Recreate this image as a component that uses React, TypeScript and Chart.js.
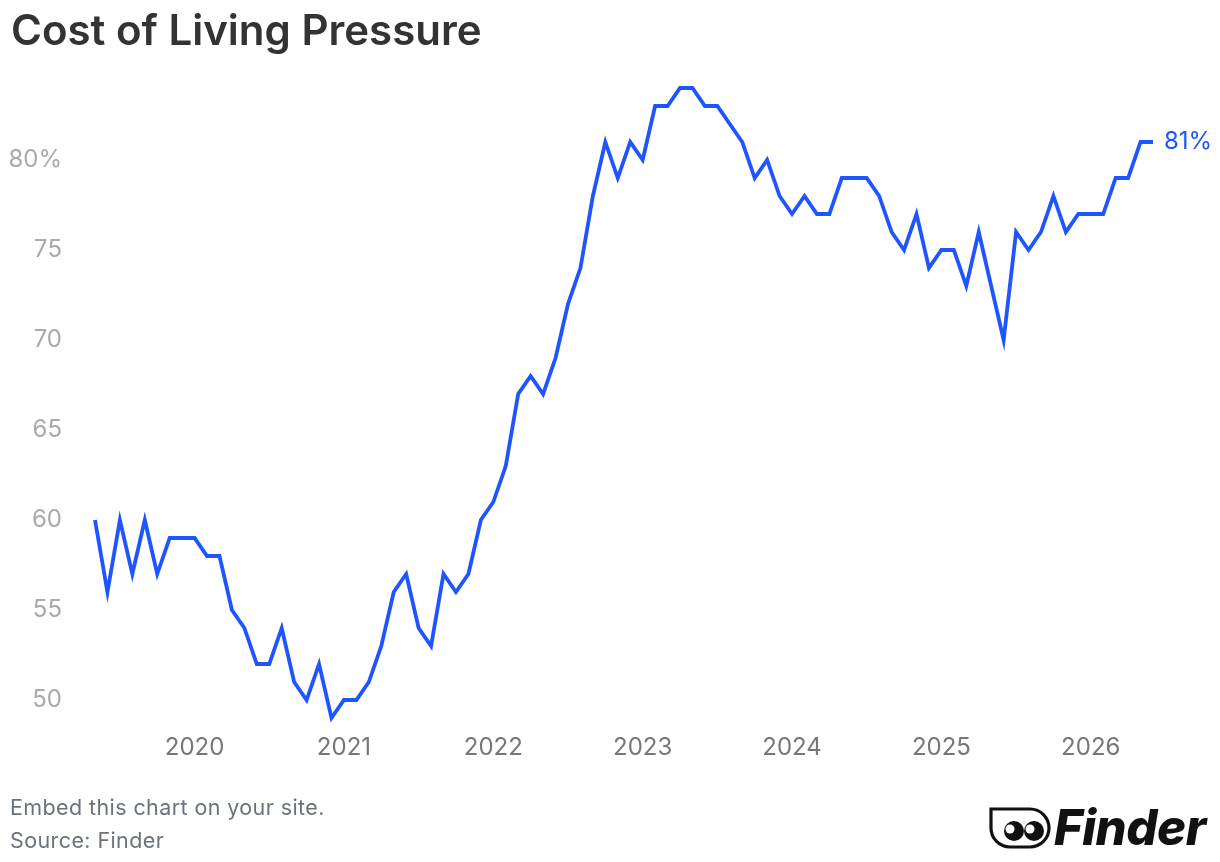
import { useEffect, useRef } from "react";
import { Chart, registerables } from "chart.js";

Chart.register(...registerables);

// monthly survey, May 2019 to June 2026
const firstYear = 2019;
const firstMonth = 5;

const pressure = [
  // 2019 (May-Dec)
  60, 56, 60, 57, 60, 57, 59, 59,
  // 2020
  59, 58, 58, 55, 54, 52, 52, 54, 51, 50, 52, 49,
  // 2021
  50, 50, 51, 53, 56, 57, 54, 53, 57, 56, 57, 60,
  // 2022
  61, 63, 67, 68, 67, 69, 72, 74, 78, 81, 79, 81,
  // 2023
  80, 83, 83, 84, 84, 83, 83, 82, 81, 79, 80, 78,
  // 2024
  77, 78, 77, 77, 79, 79, 79, 78, 76, 75, 77, 74,
  // 2025
  75, 75, 73, 76, 73, 70, 76, 75, 76, 78, 76, 77,
  // 2026 (Jan-Jun)
  77, 77, 79, 79, 81, 81,
];

const months: string[] = [];
for (let i = 0; i < pressure.length; i++) {
  const m = firstMonth - 1 + i;
  const y = firstYear + Math.floor(m / 12);
  months.push(`${y}-${String((m % 12) + 1).padStart(2, "0")}`);
}

const yTicks = [50, 55, 60, 65, 70, 75, 80];

const BLUE = "#1f55ff";
const FONT = "Inter, 'Noto Sans', sans-serif";

const endLabel = {
  id: "endLabel",
  afterDatasetsDraw(chart: any) {
    const meta = chart.getDatasetMeta(0);
    const pt = meta.data[meta.data.length - 1];
    if (!pt) return;
    const { ctx } = chart;
    ctx.save();
    ctx.font = `400 24px ${FONT}`;
    ctx.fillStyle = BLUE;
    ctx.textAlign = "left";
    ctx.textBaseline = "middle";
    ctx.fillText(`${pressure[pressure.length - 1]}%`, pt.x + 11, pt.y);
    ctx.restore();
  },
};

function LineChart() {
  const chartRef = useRef<HTMLCanvasElement>(null);
  const chartInstance = useRef<Chart | null>(null);

  useEffect(() => {
    if (!chartRef.current) return;
    if (chartInstance.current) chartInstance.current.destroy();

    chartInstance.current = new Chart(chartRef.current, {
      type: "line",
      data: {
        labels: months,
        datasets: [
          {
            data: pressure,
            borderColor: BLUE,
            borderWidth: 3.8,
            pointRadius: 0,
            pointHoverRadius: 0,
            tension: 0,
            clip: false,
          } as any,
        ],
      },
      options: {
        animation: false,
        responsive: true,
        maintainAspectRatio: false,
        layout: { padding: { top: 50, right: 67, left: 0, bottom: 0 } },
        plugins: {
          legend: { display: false },
          tooltip: { enabled: false },
        },
        scales: {
          x: {
            type: "category",
            offset: false,
            grid: { display: false, drawTicks: false },
            border: { display: false },
            afterFit(scale: any) {
              scale.height = 137;
            },
            ticks: {
              autoSkip: false,
              maxRotation: 0,
              padding: 6,
              color: "#777777",
              font: { family: FONT, size: 24 },
              callback(this: any, value: any) {
                const lbl: string = this.getLabelForValue(value);
                return lbl.endsWith("-01") ? lbl.slice(0, 4) : "";
              },
            },
          },
          y: {
            min: 48.5,
            max: 86,
            grid: { display: false, drawTicks: false },
            border: { display: false },
            afterFit(scale: any) {
              scale.width = 95;
            },
            afterBuildTicks(scale: any) {
              scale.ticks = yTicks.map((v) => ({ value: v }));
            },
            ticks: {
              padding: 33,
              color: "#aaaaaa",
              font: { family: FONT, size: 24 },
              callback(value: any) {
                return value === 80 ? "80%" : String(value);
              },
            },
          },
        },
      },
      plugins: [endLabel],
    });

    return () => {
      if (chartInstance.current) {
        chartInstance.current.destroy();
        chartInstance.current = null;
      }
    };
  }, []);

  return (
    <div style={{ position: "absolute", left: 0, top: 2, width: 1220, height: 862 }}>
      <canvas ref={chartRef}></canvas>
    </div>
  );
}

function Logo() {
  return (
    <div style={{ position: "absolute", left: 989, top: 803, display: "flex", alignItems: "center" }}>
      <svg width="62" height="44" viewBox="0 0 62 44">
        <path
          d="M2 3 H41 A19 19 0 0 1 41 41 H21 A19 19 0 0 1 2 22 Z"
          fill="none"
          stroke="#111"
          strokeWidth="3.2"
        />
        <circle cx="25" cy="25" r="10" fill="#111" />
        <circle cx="45" cy="25" r="10" fill="#111" />
        <circle cx="21" cy="23" r="4.5" fill="#fff" />
        <circle cx="41" cy="23" r="4.5" fill="#fff" />
      </svg>
      <span
        style={{
          fontFamily: FONT,
          fontWeight: 800,
          fontStyle: "italic",
          fontSize: 49,
          lineHeight: "49px",
          color: "#111",
          marginLeft: 3,
          letterSpacing: -0.5,
        }}
      >
        Finder
      </span>
    </div>
  );
}

const footStyle = {
  position: "absolute" as const,
  left: 10,
  fontFamily: FONT,
  fontSize: 21.5,
  lineHeight: "26px",
  letterSpacing: 0.4,
  color: "#6a737d",
};

export default function App() {
  return (
    <div style={{ position: "fixed", inset: 0, background: "#fff", overflow: "hidden" }}>
      <LineChart />
      <div
        style={{
          position: "absolute",
          left: 11,
          top: 4,
          fontFamily: FONT,
          fontWeight: 600,
          fontSize: 42,
          lineHeight: "52px",
          color: "#333333",
        }}
      >
        Cost of Living Pressure
      </div>
      <div style={{ ...footStyle, top: 794 }}>Embed this chart on your site.</div>
      <div style={{ ...footStyle, top: 827 }}>Source: Finder</div>
      <Logo />
    </div>
  );
}
